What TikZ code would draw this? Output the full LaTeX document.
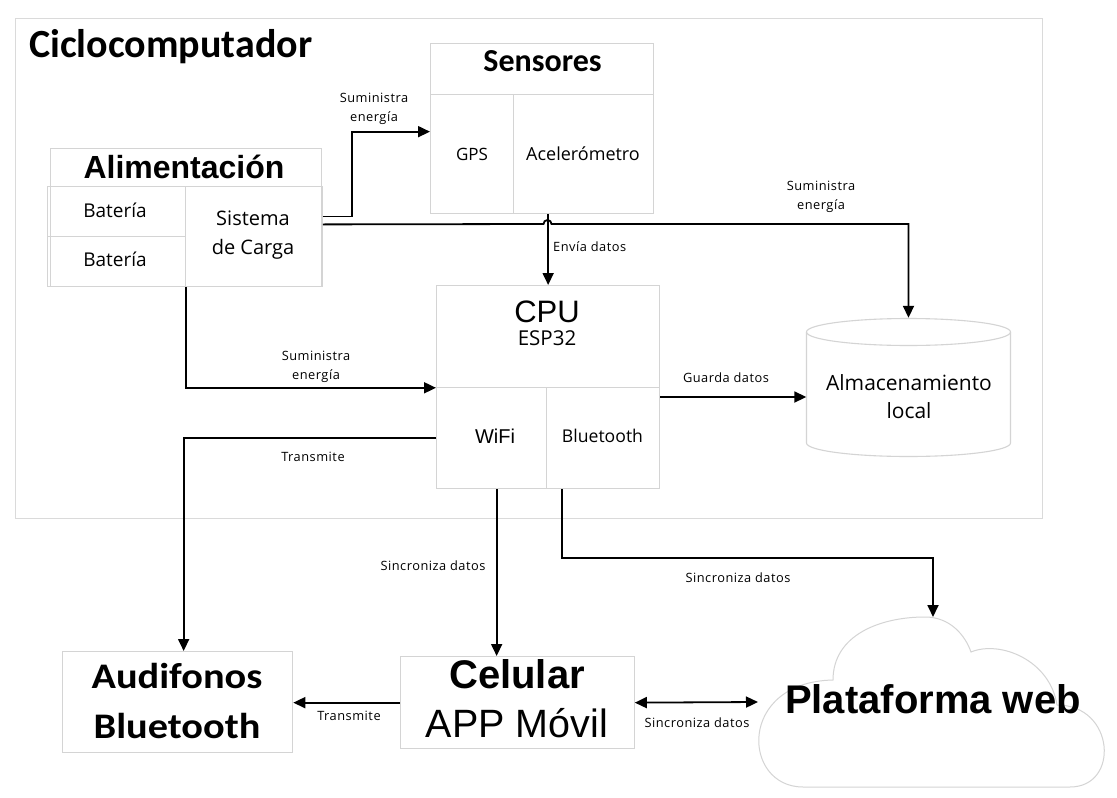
\documentclass[tikz,border=0pt]{standalone}
\usepackage{fontspec}
\setmainfont{Open Sans}
\newfontfamily\calfont{Carlito}
\newfontfamily\arialfont{Liberation Sans}
\newfontfamily\segfont{Open Sans}
\newfontfamily\lblfont[LetterSpace=4]{Open Sans}
\usetikzlibrary{arrows.meta}
\definecolor{boxgray}{HTML}{D4D4D4}
\definecolor{framegray}{HTML}{DADADA}
\newcommand{\fs}[2]{\fontsize{#1}{#2}\selectfont}
\begin{document}
\begin{tikzpicture}[x=1pt,y=-1pt,
  cell/.style={draw=boxgray, line width=1.3pt, inner sep=0pt, anchor=north west, align=center},
  conn/.style={line width=1.8pt, -{Triangle[length=12pt,width=11pt]}},
  lbl/.style={font=\lblfont\fs{12.8}{19}, inner sep=0pt, align=center},
  txt/.style={inner sep=0pt, anchor=base, align=center},
  boxline/.style={draw=boxgray, line width=1.1pt}
]
\useasboundingbox (0,0) rectangle (1117,798);
\fill[white] (0,0) rectangle (1117,798);

% outer frame
\node[cell, draw=framegray, line width=1.2pt, minimum width=1027pt, minimum height=500pt] (frame) at (15,18) {};
\node[txt, anchor=base west, font=\calfont\bfseries\fs{40}{46}] (title) at (29,57) {Ciclocomputador};

% Alimentacion
\node[cell, minimum width=271pt, minimum height=138pt] (alim) at (50,148) {};
\node[txt, font=\arialfont\bfseries\fs{32}{36}] (alimt) at (184,178) {Alimentación};
\node[cell, minimum width=138pt, minimum height=50.5pt] (bat1) at (46.5,185.5) {};
\node[cell, minimum width=138pt, minimum height=50pt] (bat2) at (46.5,236) {};
\node[cell, minimum width=137pt, minimum height=100.5pt] (sc) at (184.5,185.5) {};
\node[txt, font=\segfont\fs{19}{24}] (bat1t) at (115,217) {Batería};
\node[txt, font=\segfont\fs{19}{24}] (bat2t) at (115,266.5) {Batería};
\node[txt, font=\segfont\fs{20}{29}] (sct) at (253,254) {Sistema\\de Carga};

% Sensores
\node[cell, minimum width=223pt, minimum height=170pt] (sens) at (430,43) {};
\node[cell, minimum width=223pt, minimum height=51pt] (senshead) at (430,43) {};
\node[cell, minimum width=83pt, minimum height=119pt] (gps) at (430,94) {};
\node[cell, minimum width=140pt, minimum height=119pt] (acel) at (513,94) {};
\node[txt, font=\calfont\bfseries\fs{32}{36}] (senst) at (542.5,71.5) {Sensores};
\node[txt, font=\segfont\fs{17}{20}] (gpst) at (472,160) {GPS};
\node[txt, font=\segfont\fs{18}{20}] (acelt) at (583,160) {Acelerómetro};

% CPU
\node[cell, minimum width=223pt, minimum height=203pt] (cpu) at (436,285) {};
\node[cell, minimum width=223pt, minimum height=101.5pt] (cpuhead) at (436,285) {};
\node[cell, minimum width=110pt, minimum height=101.5pt] (wifi) at (436,386.5) {};
\node[cell, minimum width=113pt, minimum height=101.5pt] (bt) at (546,386.5) {};
\node[txt, font=\arialfont\fs{31}{36}] (cput) at (547,322.3) {CPU};
\node[txt, font=\segfont\fs{20.5}{24}] (espt) at (547,345) {ESP32};
\node[txt, font=\arialfont\fs{20}{24}] (wifit) at (495,443.3) {WiFi};
\node[txt, font=\segfont\fs{17.6}{20}] (btt) at (602.5,442.7) {Bluetooth};

% Almacenamiento (cylinder)
\draw[boxline] (806.5,332) -- (806.5,443) arc[x radius=102pt, y radius=13.5pt, start angle=180, end angle=360] -- (1010.5,332);
\draw[boxline] (908.5,332) ellipse[x radius=102pt, y radius=13.5pt];
\node[inner sep=0pt, minimum width=204pt, minimum height=158pt] (alm) at (908.5,397) {};
\node[txt, font=\segfont\fs{21}{28.3}] (almt) at (909,418.3) {Almacenamiento\\local};

% Audifonos
\node[cell, minimum width=230pt, minimum height=101pt] (aud) at (62,651) {};
\node[txt, font=\calfont\bfseries\fs{36}{50}, xscale=1.12, transform shape] (audt) at (177,738.3) {Audifonos\\Bluetooth};

% Celular
\node[cell, minimum width=234pt, minimum height=92pt] (cel) at (399.5,656) {};
\node[txt, font=\arialfont\bfseries\fs{40}{49}] (celt) at (517,688.3) {Celular};
\node[txt, font=\arialfont\fs{39.5}{49}] (appt) at (517,737.3) {APP Móvil};

% Cloud
\draw[boxline, line width=1pt] (803,787)
  .. controls (742,787) and (737,682) .. (833,680)
  .. controls (833,635) and (880,617) .. (925,617)
  .. controls (950,617) and (965,635) .. (971,652)
  .. controls (1000,640) and (1050,660) .. (1057,705)
  .. controls (1115,705) and (1120,787) .. (1070,787)
  -- cycle;
\node[txt, font=\arialfont\bfseries\fs{40}{48}] (web) at (933,713.3) {Plataforma web};
\coordinate (webtop) at (933,617);
\coordinate (webleft) at (758,702);

% connectors
\draw[conn] ([yshift=20pt]sc.east) -- ++(29,0) |- ([yshift=-3pt]sens.west);
\draw[conn] ([yshift=12pt]sc.east) -- (543.5,224) arc[start angle=180, end angle=0, radius=4pt] -- (908.5,224) -- (alm.north);
\draw[conn] (cpu.north |- sens.south) -- (cpu.north);
\draw[conn] (bat2.south east) |- (cpuhead.south west);
\draw[conn] (wifi.west) -| ([xshift=6pt]aud.north);
\draw[conn] ([xshift=5pt]wifi.south) -- ([xshift=5pt]wifi.south |- cel.north);
\draw[conn] ([xshift=16pt]bt.south west) -- ++(0,69) -| (webtop);
\draw[conn] (bt.east |- alm.west) -- (alm.west);
\draw[conn] (cel.west) -- (cel.west -| aud.east);
\draw[conn, {Triangle[length=12pt,width=11pt]}-{Triangle[length=12pt,width=11pt]}] (cel.east) -- (webleft);

% labels
\node[lbl] (l1) at (374,109) {Suministra\\energía};
\node[lbl] (l2) at (821,197) {Suministra\\energía};
\node[lbl, anchor=west] (l3) at (553,247) {Envía datos};
\node[lbl] (l4) at (316,367) {Suministra\\energía};
\node[lbl] (l5) at (726,378) {Guarda datos};
\node[lbl] (l6) at (313,457) {Transmite};
\node[lbl] (l7) at (433,566) {Sincroniza datos};
\node[lbl] (l8) at (738,578) {Sincroniza datos};
\node[lbl] (l9) at (349,716) {Transmite};
\node[lbl] (l10) at (697,723) {Sincroniza datos};
\end{tikzpicture}
\end{document}
